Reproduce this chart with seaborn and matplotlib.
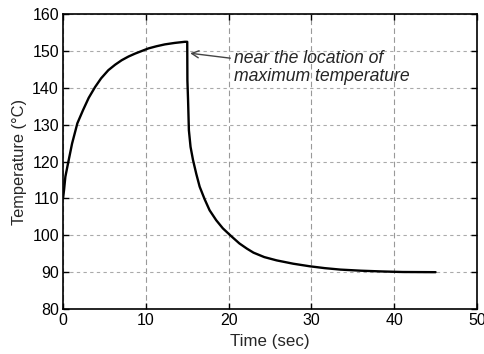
import matplotlib
matplotlib.use("Agg")
import matplotlib.pyplot as plt
import seaborn as sns
import pandas as pd

time_s = [0.0, 0.12, 0.28, 0.6, 1.09, 1.73, 2.42, 3.1, 3.86, 4.6, 5.47, 6.3, 7.08, 7.9,
          8.7, 9.5, 10.3, 11.3, 12.3, 13.5, 14.7, 15.0,
          15.02, 15.1, 15.2, 15.4, 15.7, 16.1, 16.5, 17.1, 17.7, 18.5, 19.3, 20.2, 21.3,
          22.2, 23.0, 24.3, 25.8, 27.8, 29.8, 31.6, 33.5, 36.0, 38.5, 41.0, 45.0]
temp_c = [110.0, 112.3, 115.9, 119.5, 124.9, 130.4, 134.0, 137.3, 140.2, 142.6, 144.8, 146.3, 147.5, 148.5,
          149.3, 150.0, 150.7, 151.3, 151.8, 152.2, 152.5, 152.5,
          142.0, 136.7, 128.5, 124.0, 120.4, 116.6, 113.2, 109.8, 106.8, 104.1, 101.9, 100.0, 97.8,
          96.4, 95.3, 94.1, 93.2, 92.3, 91.6, 91.1, 90.7, 90.4, 90.2, 90.05, 90.0]

xticks = [0, 10, 20, 30, 40, 50]
yticks = [80, 90, 100, 110, 120, 130, 140, 150, 160]

df = pd.DataFrame({"Time": time_s, "Temp": temp_c})

sns.set_theme(style="white")
plt.rcParams['font.family'] = ['Liberation Sans', 'DejaVu Sans']

fig = plt.figure(figsize=(4.85, 3.54), dpi=100)
ax = fig.add_axes([0.13, 0.127, 0.8535, 0.833])

sns.lineplot(data=df, x="Time", y="Temp", sort=False, estimator=None,
             color="black", linewidth=1.7, ax=ax)

ax.set_xlim(0, 50)
ax.set_ylim(80, 160)
ax.set_xticks(xticks)
ax.set_yticks(yticks)
ax.set_xticklabels([str(t) for t in xticks], fontsize=11.5)
ax.set_yticklabels([str(t) for t in yticks], fontsize=11.5)
ax.set_xlabel("Time (sec)", fontsize=12.2, labelpad=4)
ax.set_ylabel("Temperature (°C)", fontsize=11.8, labelpad=4)

ax.xaxis.grid(True, color="#999999", linestyle=(0, (5, 3)), linewidth=0.8)
ax.yaxis.grid(True, color="#aaaaaa", linestyle=(0, (3, 3)), linewidth=0.8)
ax.tick_params(direction="in", length=4, width=1.0, top=True, right=True,
               bottom=True, left=True, colors="black", pad=3)
for s in ax.spines.values():
    s.set_color("black")
    s.set_linewidth(1.2)

ax.annotate("near the location of\nmaximum temperature",
            xy=(15.35, 149.4), xytext=(20.6, 145.6),
            fontsize=12.7, style="italic", ha="left", va="center",
            linespacing=1.05,
            arrowprops=dict(arrowstyle="->", color="#444444", lw=1.0,
                            shrinkA=0, shrinkB=0, relpos=(0.0, 0.75)))

fig.savefig("out.png", dpi=100)
